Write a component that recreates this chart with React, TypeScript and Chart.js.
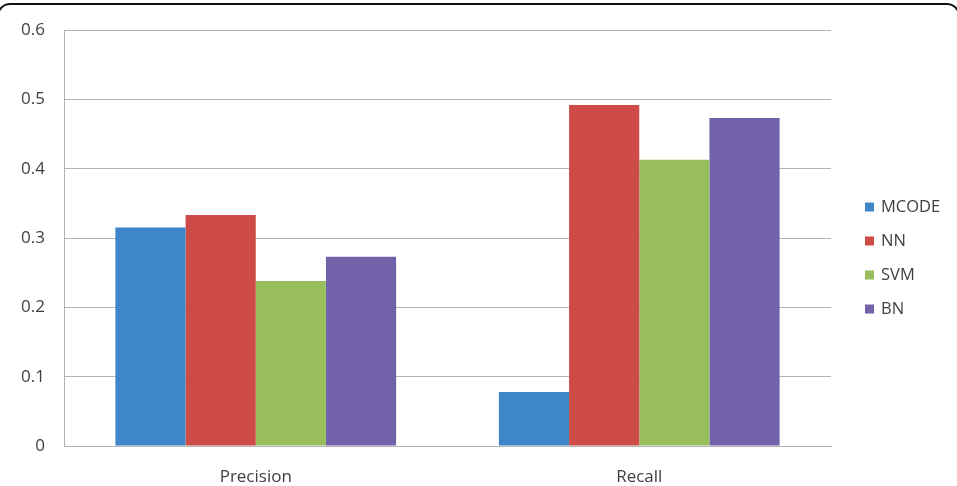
import React, { useEffect, useRef } from "react";
import { Chart, registerables } from "chart.js";

Chart.register(...registerables);

// Metric categories on the x axis
const categories = ["Precision", "Recall"];

// Scores per method
const mcode = [0.315, 0.078];
const nn = [0.333, 0.492];
const svm = [0.238, 0.413];
const bn = [0.273, 0.473];

const seriesNames = ["MCODE", "NN", "SVM", "BN"];
const seriesColors = ["#3F86C8", "#CE4B47", "#98BF5C", "#7262AA"];

const yTicks = [0, 0.1, 0.2, 0.3, 0.4, 0.5, 0.6];

const FONT = "'Open Sans', Lato, sans-serif";

// Rounded frame across the top of the canvas and a vertical legend at the right
const decorPlugin = {
  id: "decor",
  afterDraw(chart: any) {
    const ctx = chart.ctx as CanvasRenderingContext2D;
    ctx.save();
    // frame
    ctx.strokeStyle = "#111";
    ctx.lineWidth = 2;
    const x0 = -2, y0 = 4, x1 = 959, y1 = 700, r = 12;
    ctx.beginPath();
    ctx.moveTo(x0 + r, y0);
    ctx.lineTo(x1 - r, y0);
    ctx.arcTo(x1, y0, x1, y0 + r, r);
    ctx.lineTo(x1, y1);
    ctx.moveTo(x0, y1);
    ctx.lineTo(x0, y0 + r);
    ctx.arcTo(x0, y0, x0 + r, y0, r);
    ctx.stroke();

    // legend
    const startY = 207;
    const step = 34;
    ctx.font = `16.5px ${FONT}`;
    ctx.textBaseline = "middle";
    ctx.textAlign = "left";
    chart.data.datasets.forEach((ds: any, i: number) => {
      const cy = startY + i * step;
      ctx.fillStyle = ds.backgroundColor;
      ctx.fillRect(865, cy - 4.5, 9, 9);
      ctx.fillStyle = "#404040";
      ctx.fillText(ds.label, 881, cy);
    });
    ctx.restore();
  },
};

export default function App() {
  const canvasRef = useRef<HTMLCanvasElement | null>(null);

  useEffect(() => {
    document.body.style.margin = "0";
    const canvas = canvasRef.current;
    if (!canvas) return;
    const values = [mcode, nn, svm, bn];
    const chart = new Chart(canvas, {
      type: "bar",
      data: {
        labels: categories,
        datasets: seriesNames.map((name, i) => ({
          label: name,
          data: values[i],
          backgroundColor: seriesColors[i],
          borderWidth: 0,
          categoryPercentage: 0.732,
          barPercentage: 1.0,
        })),
      },
      options: {
        responsive: false,
        animation: false,
        devicePixelRatio: 1,
        layout: { padding: { left: 0, right: 126, top: 30, bottom: 0 } },
        plugins: {
          legend: { display: false },
          tooltip: { enabled: false },
        },
        scales: {
          x: {
            grid: { display: false, drawTicks: false },
            border: { display: true, color: "#B3B3B3", width: 1 },
            ticks: {
              padding: 21,
              color: "#404040",
              font: { family: FONT, size: 17 },
            },
            afterFit(scale: any) {
              scale.height = 40;
            },
          },
          y: {
            min: 0,
            max: 0.6,
            afterBuildTicks(scale: any) {
              scale.ticks = yTicks.map((v) => ({ value: v }));
            },
            grid: { color: "#B3B3B3", lineWidth: 1, drawTicks: false },
            border: { display: true, color: "#B3B3B3", width: 1 },
            ticks: {
              padding: 19,
              color: "#404040",
              font: { family: FONT, size: 17 },
              callback: (v: any) => String(Number(v)),
            },
            afterFit(scale: any) {
              scale.width = 64;
            },
          },
        },
      },
      plugins: [decorPlugin],
    });
    return () => chart.destroy();
  }, []);

  return (
    <div style={{ width: 957, height: 486, background: "#fff" }}>
      <canvas ref={canvasRef} width={957} height={486} style={{ display: "block" }} />
    </div>
  );
}
